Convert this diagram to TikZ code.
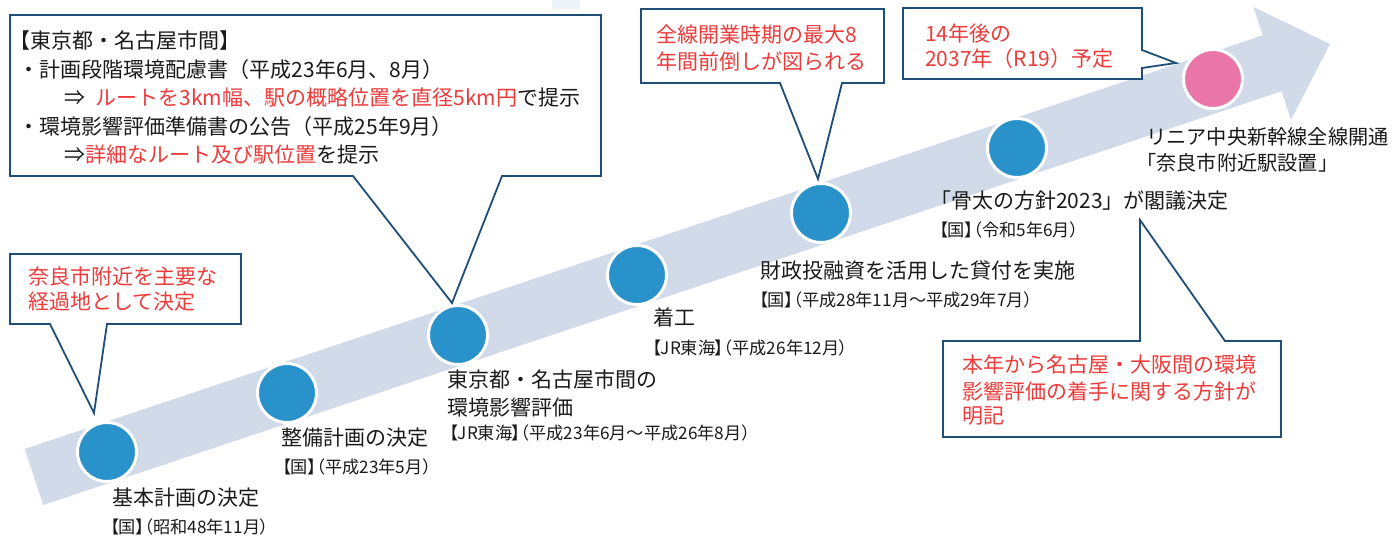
\documentclass[tikz,border=0pt]{standalone}
\usepackage{fontspec}
\setmainfont{Noto Sans CJK JP}
\newfontfamily\propfont[RawFeature=+palt]{Noto Sans CJK JP}
\definecolor{band}{HTML}{D0DAE8}
\definecolor{dotblue}{HTML}{2992CA}
\definecolor{dotpink}{HTML}{EA76A8}
\definecolor{cbord}{HTML}{1F4E79}
\definecolor{redtxt}{HTML}{EC3B3B}
\definecolor{ink}{HTML}{1A1A1A}
\definecolor{patch}{HTML}{EEF4FA}
\newcommand{\rt}[1]{\textcolor{redtxt}{#1}}
\begin{document}
\begin{tikzpicture}[x=1pt,y=-1pt,
  dot/.style={circle, fill=dotblue, draw=white, line width=3pt, minimum size=59pt, inner sep=0pt},
  pinkdot/.style={dot, fill=dotpink},
  callout/.style={draw=cbord, line width=1.8pt, fill=white, line join=miter},
  big/.style={font=\fontsize{21}{25}\selectfont, anchor=base west, inner sep=0pt, text=ink},
  small/.style={font=\propfont\fontsize{17.2}{20}\selectfont, anchor=base west, inner sep=0pt, text=ink},
  redbig/.style={big, text=redtxt}]
\useasboundingbox (0,0) rectangle (1396,540);
\fill[patch] (552,0) rectangle (580,9);
% arrow band
\fill[band] (24.7,449) -- (1262.8,35.3) -- (1253.3,6.9) -- (1330,44) -- (1291,119.7) -- (1281.5,91.3) -- (43.3,505) -- cycle;
% milestones
\node[dot] (m1) at (107,452) {};
\node[dot] (m2) at (287,393) {};
\node[dot] (m3) at (458,335) {};
\node[dot] (m4) at (637,275) {};
\node[dot] (m5) at (821,213) {};
\node[dot] (m6) at (1017,148) {};
\node[pinkdot] (m7) at (1213,79) {};
% labels
\node[big] (l1) at (112,505.5) {基本計画の決定};
\node[small] (s1) at (110,533) {【国】（昭和48年11月）};
\node[big] (l2) at (281,445.5) {整備計画の決定};
\node[small] (s2) at (282,473) {【国】（平成23年5月）};
\node[big] (l3a) at (447,387.5) {東京都・名古屋市間の};
\node[big] (l3b) at (447,415.5) {環境影響評価};
\node[small] (s3) at (449,439.5) {【JR東海】（平成23年6月～平成26年8月）};
\node[big] (l4) at (653,325.5) {着工};
\node[small] (s4) at (652,354.5) {【JR東海】（平成26年12月）};
\node[big] (l5) at (760,278.5) {財政投融資を活用した貸付を実施};
\node[small] (s5) at (759,306.5) {【国】（平成28年11月～平成29年7月）};
\node[big] (l6) at (930,208.5) {「骨太の方針2023」が閣議決定};
\node[small] (s6) at (939,236.5) {【国】（令和5年6月）};
\node[big, font=\fontsize{20.2}{24}\selectfont] (l7a) at (1146,144.5) {リニア中央新幹線全線開通};
\node[big, font=\fontsize{20.2}{24}\selectfont] (l7b) at (1136,170.5) {「奈良市附近駅設置」};
% callout A
\coordinate (ta) at (452,303);
\draw[callout] (10,15) -- (601,15) -- (601,176) -- (502,176) -- (ta) -- (353,176) -- (10,176) -- cycle;
\node[big] (a1) at (9,48.5) {【東京都・名古屋市間】};
\node[big] (a2) at (18.5,77.5) {・計画段階環境配慮書（平成23年6月、8月）};
\node[big] (a3) at (64,105.5) {⇒\hspace{0.5em}\rt{ルートを3km幅、駅の概略位置を直径5km円}で提示};
\node[big] (a4) at (18.5,134.5) {・環境影響評価準備書の公告（平成25年9月）};
\node[big] (a5) at (64,162.5) {⇒\rt{詳細なルート及び駅位置}を提示};
% callout B
\coordinate (tb) at (94,413);
\draw[callout] (10,254) -- (241,254) -- (241,324) -- (107,324) -- (tb) -- (50,324) -- (10,324) -- cycle;
\node[redbig] (b1) at (28,284.5) {奈良市附近を主要な};
\node[redbig] (b2) at (28,309.5) {経過地として決定};
% callout C
\coordinate (tc) at (818,179);
\draw[callout] (641,9) -- (884,9) -- (884,83) -- (842,83) -- (tc) -- (780,83) -- (641,83) -- cycle;
\node[redbig] (c1) at (656,42.5) {全線開業時期の最大8};
\node[redbig] (c2) at (656,69.5) {年間前倒しが図られる};
% callout D
\coordinate (td) at (1176,63);
\draw[callout] (903,8) -- (1142,8) -- (1142,50) -- (td) -- (1142,68) -- (1142,79) -- (903,79) -- cycle;
\node[redbig] (d1) at (925,41.5) {14年後の};
\node[redbig] (d2) at (925,66.5) {2037年（R19）予定};
% callout E
\coordinate (te) at (1140,220);
\draw[callout] (943,341) -- (1140,341) -- (te) -- (1225,341) -- (1281,341) -- (1281,437) -- (943,437) -- cycle;
\node[redbig] (e1) at (962,372.5) {本年から名古屋・大阪間の環境};
\node[redbig] (e2) at (962,399.5) {影響評価の着手に関する方針が};
\node[redbig] (e3) at (962,423.5) {明記};
\end{tikzpicture}
\end{document}
